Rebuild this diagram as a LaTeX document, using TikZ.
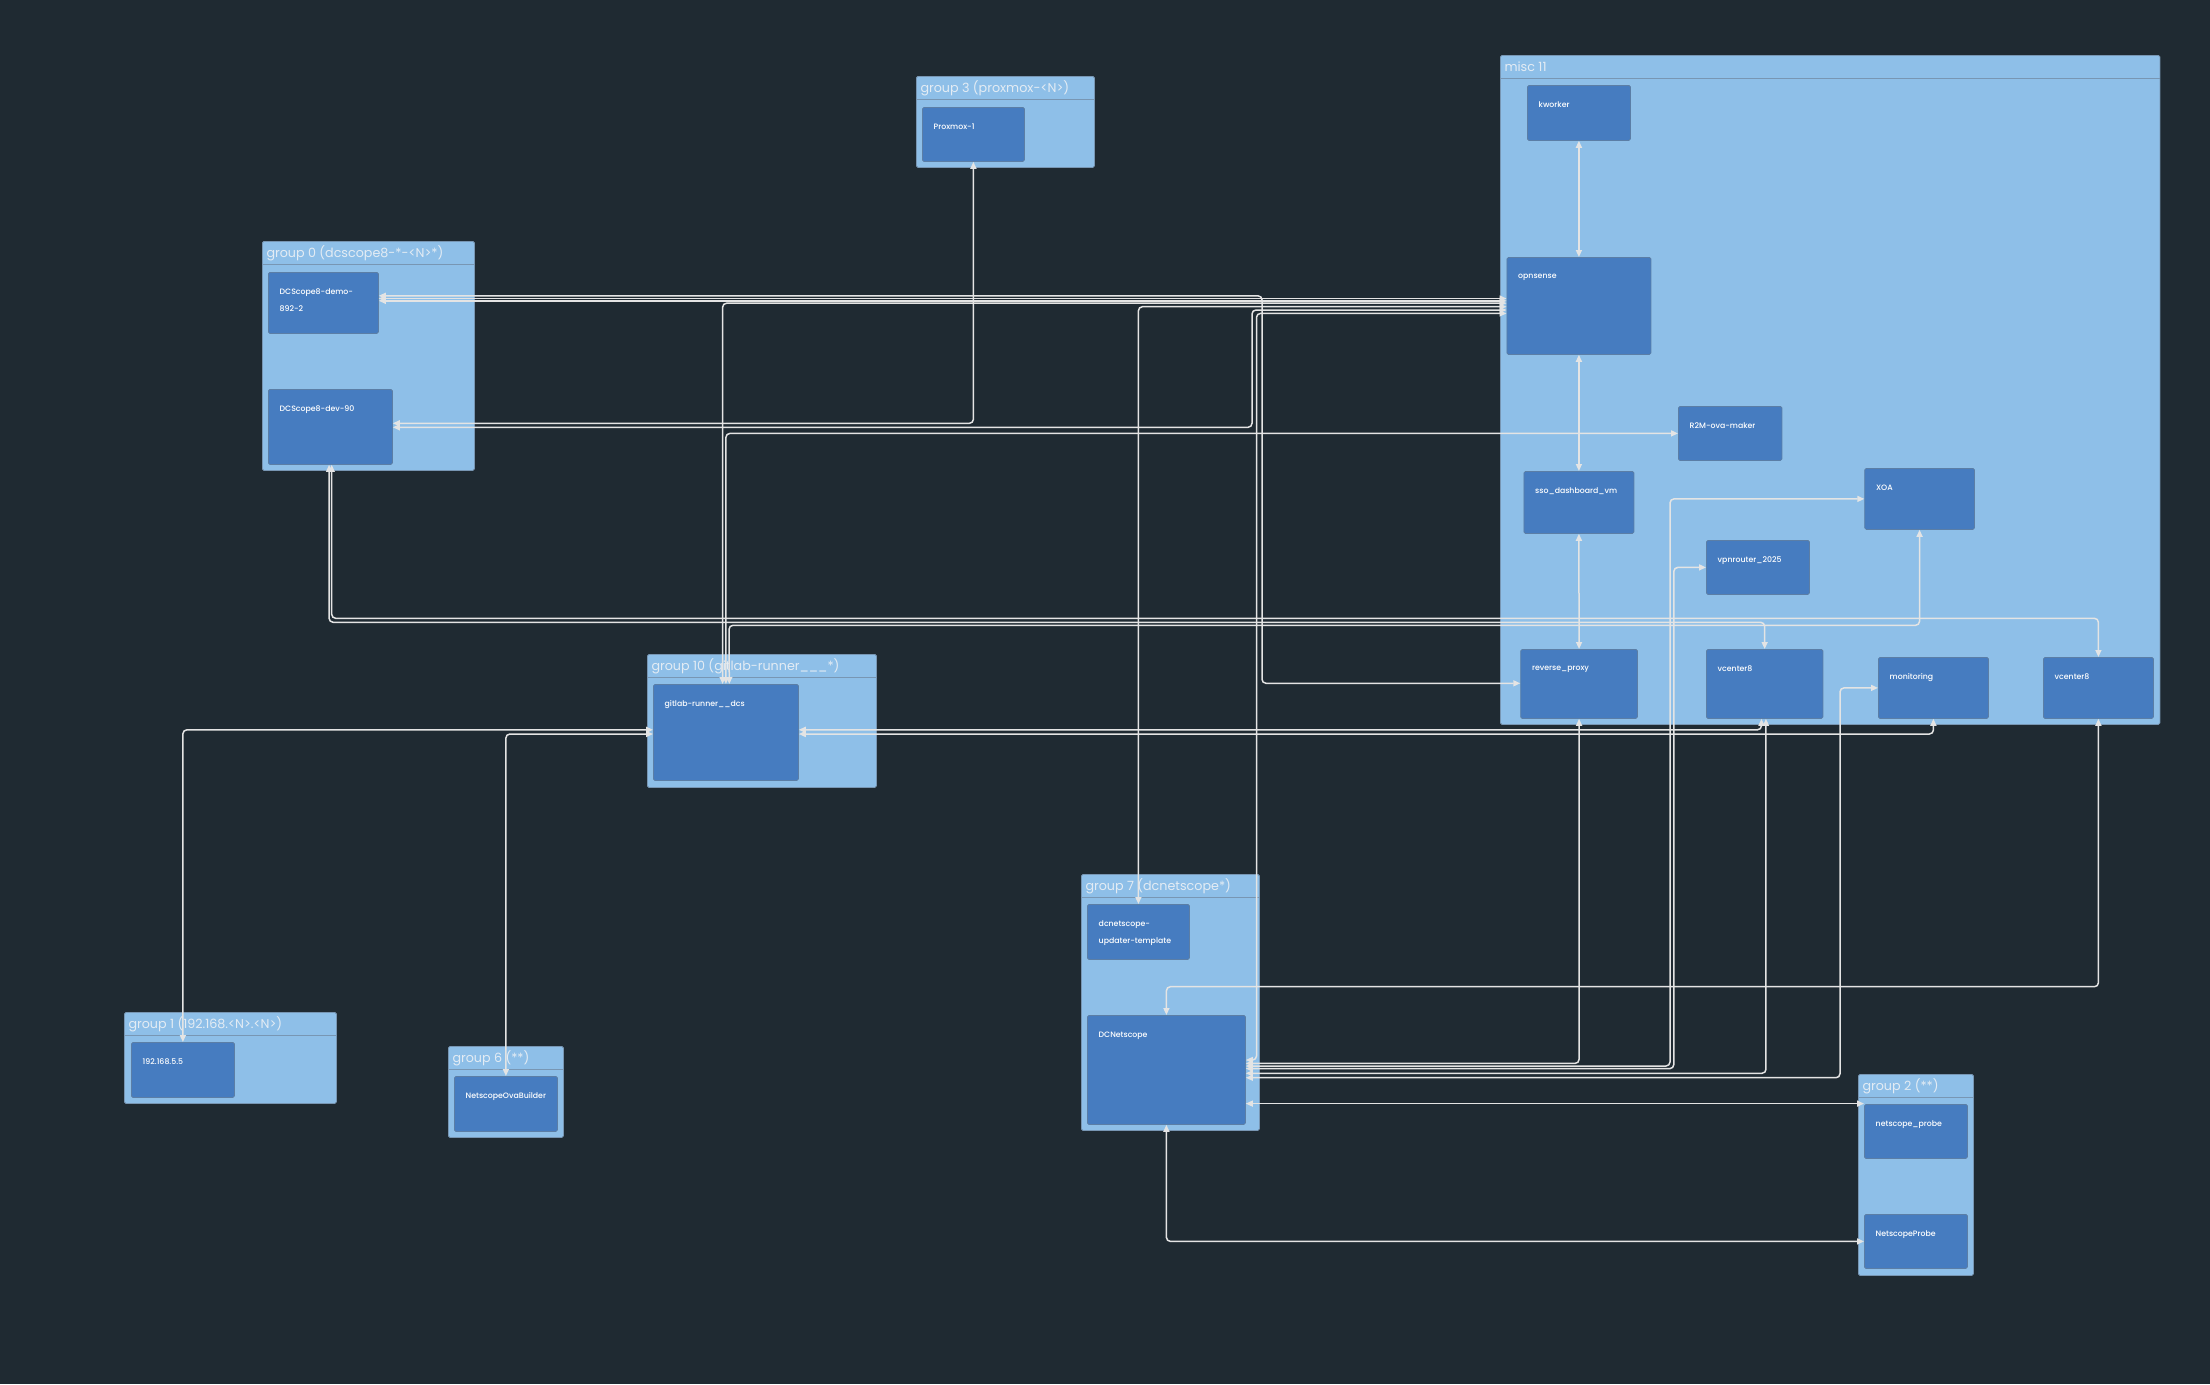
\documentclass[tikz,border=0pt]{standalone}
\usepackage{fontspec}
\setmainfont{Poppins}
\newfontfamily\vmfont{Poppins Medium}
\usepackage{xcolor}
\usepackage{tikz}
\usetikzlibrary{arrows.meta}
\definecolor{canvasbg}{HTML}{1F2A32}
\definecolor{grpfill}{HTML}{8EBFE8}
\definecolor{grpedge}{HTML}{7896B3}
\definecolor{grptext}{HTML}{E3ECF4}
\definecolor{vmfill}{HTML}{467CC0}
\definecolor{vmedge}{HTML}{5B7EA6}
\definecolor{linkgrey}{HTML}{E4E4E4}
\tikzset{
  grpbox/.style={draw=grpedge,fill=grpfill,line width=0.8pt,rounded corners=1.5pt,anchor=north west,inner sep=0pt},
  grpsep/.style={draw=grpedge,line width=1pt},
  grptitle/.style={anchor=west,inner sep=0pt,text=grptext,font=\fontsize{12.7}{14}\selectfont,xshift=4.3pt,yshift=-12pt},
  vmbox/.style={draw=vmedge,fill=vmfill,line width=0.8pt,rounded corners=1.5pt,anchor=north west,inner sep=0pt},
  vmtext/.style={anchor=north west,inner sep=0pt,text=white,align=left,font=\vmfont\fontsize{7.8}{17}\selectfont,xshift=11.5pt,yshift=-16.5pt},
  link/.style={<->,>={Triangle[length=7pt,width=6pt]},draw=linkgrey,line width=1.5pt,rounded corners=4pt},
}

\begin{document}
\begin{tikzpicture}[x=1pt,y=-1pt]
  \fill[canvasbg] (0,0) rectangle (2210,1384);
  \useasboundingbox (0,0) rectangle (2210,1384);

  % groups
  \node[grpbox,minimum width=212pt,minimum height=229pt,label={[grptitle]north west:{group 0 (dcscope8-*-<N>*)}}] (g0) at (262,241) {};
  \node[grpbox,minimum width=178pt,minimum height=91pt,label={[grptitle]north west:{group 3 (proxmox-<N>)}}] (g3) at (916,76) {};
  \node[grpbox,minimum width=659.5pt,minimum height=669pt,label={[grptitle]north west:{misc 11}}] (g11) at (1500,55) {};
  \node[grpbox,minimum width=229pt,minimum height=133pt,label={[grptitle]north west:{group 10 (gitlab-runner\_\_\_*)}}] (g10) at (647,654) {};
  \node[grpbox,minimum width=212pt,minimum height=91pt,label={[grptitle]north west:{group 1 (192.168.<N>.<N>)}}] (g1) at (124,1012) {};
  \node[grpbox,minimum width=115pt,minimum height=91pt,label={[grptitle]north west:{group 6 (**)}}] (g6) at (448,1046) {};
  \node[grpbox,minimum width=178pt,minimum height=256pt,label={[grptitle]north west:{group 7 (dcnetscope*)}}] (g7) at (1081,874) {};
  \node[grpbox,minimum width=115pt,minimum height=201pt,label={[grptitle]north west:{group 2 (**)}}] (g2) at (1858,1074) {};
  \foreach \g in {g0,g3,g11,g10,g1,g6,g7,g2}
    \draw[grpsep] ([yshift=-23.5pt]\g.north west) -- ([yshift=-23.5pt]\g.north east);

  % machines
  \node[vmbox,minimum width=110pt,minimum height=61pt,label={[vmtext]north west:{DCScope8-demo-\\892-2}}] (demo) at (268,272) {};
  \node[vmbox,minimum width=124pt,minimum height=75pt,label={[vmtext]north west:{DCScope8-dev-90}}] (dev) at (268,389) {};
  \node[vmbox,minimum width=102pt,minimum height=54pt,label={[vmtext]north west:{Proxmox-1}}] (prx) at (922,107) {};
  \node[vmbox,minimum width=103pt,minimum height=55pt,label={[vmtext]north west:{kworker}}] (kwk) at (1527,85) {};
  \node[vmbox,minimum width=144pt,minimum height=97pt,label={[vmtext]north west:{opnsense}}] (opn) at (1506.5,257) {};
  \node[vmbox,minimum width=103.5pt,minimum height=54pt,label={[vmtext]north west:{R2M-ova-maker}}] (r2m) at (1678,406) {};
  \node[vmbox,minimum width=110pt,minimum height=62pt,label={[vmtext]north west:{sso\_dashboard\_vm}}] (sso) at (1523.5,471) {};
  \node[vmbox,minimum width=109.7pt,minimum height=61pt,label={[vmtext]north west:{XOA}}] (xoa) at (1864.3,468) {};
  \node[vmbox,minimum width=103pt,minimum height=54pt,label={[vmtext]north west:{vpnrouter\_2025}}] (vpn) at (1706,540) {};
  \node[vmbox,minimum width=116.7pt,minimum height=69pt,label={[vmtext]north west:{reverse\_proxy}}] (rpx) at (1520.3,649) {};
  \node[vmbox,minimum width=116.5pt,minimum height=69pt,label={[vmtext]north west:{vcenter8}}] (vca) at (1706,649) {};
  \node[vmbox,minimum width=110pt,minimum height=61pt,label={[vmtext]north west:{monitoring}}] (mon) at (1878,657) {};
  \node[vmbox,minimum width=110pt,minimum height=61pt,label={[vmtext]north west:{vcenter8}}] (vcb) at (2043,657) {};
  \node[vmbox,minimum width=145pt,minimum height=96pt,label={[vmtext]north west:{gitlab-runner\_\_dcs}}] (git) at (653,684) {};
  \node[vmbox,minimum width=103pt,minimum height=55pt,label={[vmtext]north west:{192.168.5.5}}] (ip) at (131,1042) {};
  \node[vmbox,minimum width=103pt,minimum height=55pt,label={[vmtext]north west:{NetscopeOvaBuilder}}] (ova) at (454,1076) {};
  \node[vmbox,minimum width=102pt,minimum height=55pt,label={[vmtext]north west:{dcnetscope-\\updater-template}}] (upd) at (1087,904) {};
  \node[vmbox,minimum width=158pt,minimum height=109pt,label={[vmtext]north west:{DCNetscope}}] (dcn) at (1087,1015) {};
  \node[vmbox,minimum width=103pt,minimum height=54pt,label={[vmtext]north west:{netscope\_probe}}] (nsp) at (1864,1104) {};
  \node[vmbox,minimum width=103pt,minimum height=54pt,label={[vmtext]north west:{NetscopeProbe}}] (nsb) at (1864,1214) {};

  % links
  \draw[link] (kwk.south) -- (opn.north);
  \draw[link] (opn.south) -- (sso.north);
  \draw[link] (sso.south) -- (rpx.north);
  \draw[link] (demo.east |- 0,298.5) -- (opn.west |- 0,298.5);
  \draw[link] (demo.east |- 0,300.8) -- (opn.west |- 0,300.8);
  \draw[link] (demo.east |- 0,295.8) -| (1262,683.3) -- (rpx.west |- 0,683.3);
  \draw[link] (opn.west |- 0,303.2) -| ([xshift=-3.3pt]git.north);
  \draw[link] (opn.west |- 0,306.7) -| (upd.north);
  \draw[link] (opn.west |- 0,310) -| (1252,427.3) -- (dev.east |- 0,427.3);
  \draw[link] (opn.west |- 0,313.4) -| (1256.5,1060) -- (dcn.east |- 0,1060);
  \draw[link] (prx.south) |- (dev.east |- 0,423.3);
  \draw[link] (r2m.west) -| (git.north);
  \draw[link] ([xshift=-1.3pt]dev.south) |- (vca.north |- 0,622.3) -- (vca.north);
  \draw[link] ([xshift=1.3pt]dev.south) |- (vcb.north |- 0,618.3) -- (vcb.north);
  \draw[link] (xoa.south) |- (729,625.3) -- ([xshift=3.4pt]git.north);
  \draw[link] (git.west |- 0,729.8) -| (ip.north);
  \draw[link] (git.west |- 0,734) -| (ova.north);
  \draw[link] (git.east |- 0,729.8) -| ([xshift=-3.2pt]vca.south);
  \draw[link] (git.east |- 0,734) -| (mon.south);
  \draw[link] (rpx.south) |- (dcn.east |- 0,1063.4);
  \draw[link] (xoa.west) -| (1670,1066) -- (dcn.east |- 0,1066);
  \draw[link] (vpn.west) -| (1673.8,1068.6) -- (dcn.east |- 0,1068.6);
  \draw[link] ([xshift=1.3pt]vca.south) |- (dcn.east |- 0,1073.3);
  \draw[link] (mon.west) -| (1840,1077.7) -- (dcn.east |- 0,1077.7);
  \draw[link] (dcn.east |- 0,1103.6) -- (nsp.west |- 0,1103.6);
  \draw[link] (dcn.south) |- (nsb.west);
  \draw[link] (vcb.south) |- (dcn.north |- 0,986.7) -- (dcn.north);
\end{tikzpicture}
\end{document}
